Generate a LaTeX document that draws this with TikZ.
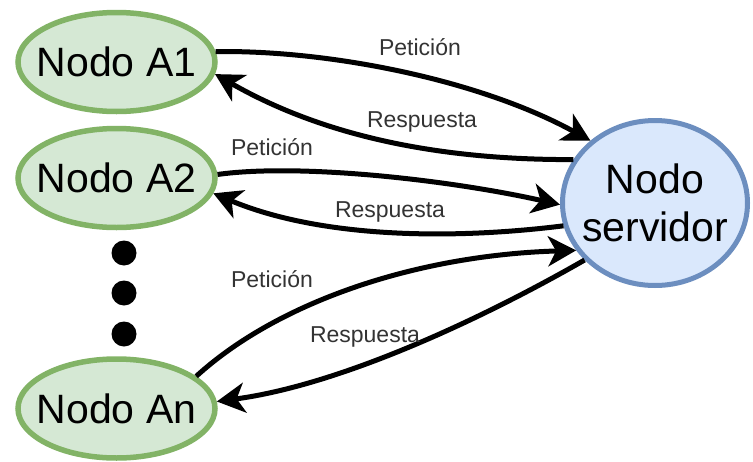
\documentclass[tikz,border=0pt]{standalone}
\usepackage{fontspec}
\setmainfont{Liberation Sans}
\usetikzlibrary{shapes.geometric,arrows.meta}

\definecolor{clientfill}{HTML}{D5E8D4}
\definecolor{clientline}{HTML}{82B366}
\definecolor{serverfill}{HTML}{DAE8FC}
\definecolor{serverline}{HTML}{6C8EBF}

\tikzset{
  client/.style={ellipse, draw=clientline, fill=clientfill, line width=5.5pt,
    minimum width=197pt, minimum height=99pt, inner xsep=-25pt, inner ysep=0pt,
    font=\fontsize{41}{48}\selectfont},
  server/.style={ellipse, draw=serverline, fill=serverfill, line width=5pt,
    minimum width=185pt, minimum height=165pt, inner xsep=-30pt, inner ysep=0pt,
    align=center, font=\fontsize{41}{48}\selectfont},
  link/.style={line width=5pt, -{Stealth[length=28pt, width=30pt, inset=8pt]}},
  msg/.style={font=\fontsize{23}{26}\selectfont, text=black!80, inner sep=0pt},
  dot/.style={circle, fill=black, minimum size=25pt, inner sep=0pt}
}

\begin{document}
\begin{tikzpicture}[x=1pt, y=-1pt]
  \useasboundingbox (0,0) rectangle (753,461);

  % client and server nodes
  \node[client] (a1) at (116.5,62) {Nodo A1};
  \node[client] (a2) at (116.5,178) {Nodo A2};
  \node[client] (an) at (116.5,408.5) {Nodo An};
  \node[server] (srv) at (655,203) {Nodo\\servidor};

  % ellipsis between A2 and An
  \node[dot] (d1) at (124,253) {};
  \node[dot] (d2) at (124,293) {};
  \node[dot] (d3) at (124,334) {};

  % requests and responses
  \draw[link] (a1.6) .. controls (330,50) and (480,80) .. (srv.136);
  \draw[link] (srv.152) .. controls (450,160) and (330,140) .. (a1.-7);

  \draw[link] (a2.2) .. controls (300,163) and (450,180) .. (srv.181);
  \draw[link] (srv.194) .. controls (450,240) and (320,238) .. (a2.-9);

  \draw[link] (an.22) .. controls (280,300) and (420,255) .. (srv.211);
  \draw[link] (srv.219) .. controls (480,320) and (340,385) .. (an.4);

  % message labels
  \node[msg] (p1) at (420,47) {Petición};
  \node[msg] (r1) at (422,122) {Respuesta};
  \node[msg] (p2) at (272,147) {Petición};
  \node[msg] (r2) at (390,212) {Respuesta};
  \node[msg] (p3) at (272,279) {Petición};
  \node[msg] (r3) at (365,337) {Respuesta};
\end{tikzpicture}
\end{document}
